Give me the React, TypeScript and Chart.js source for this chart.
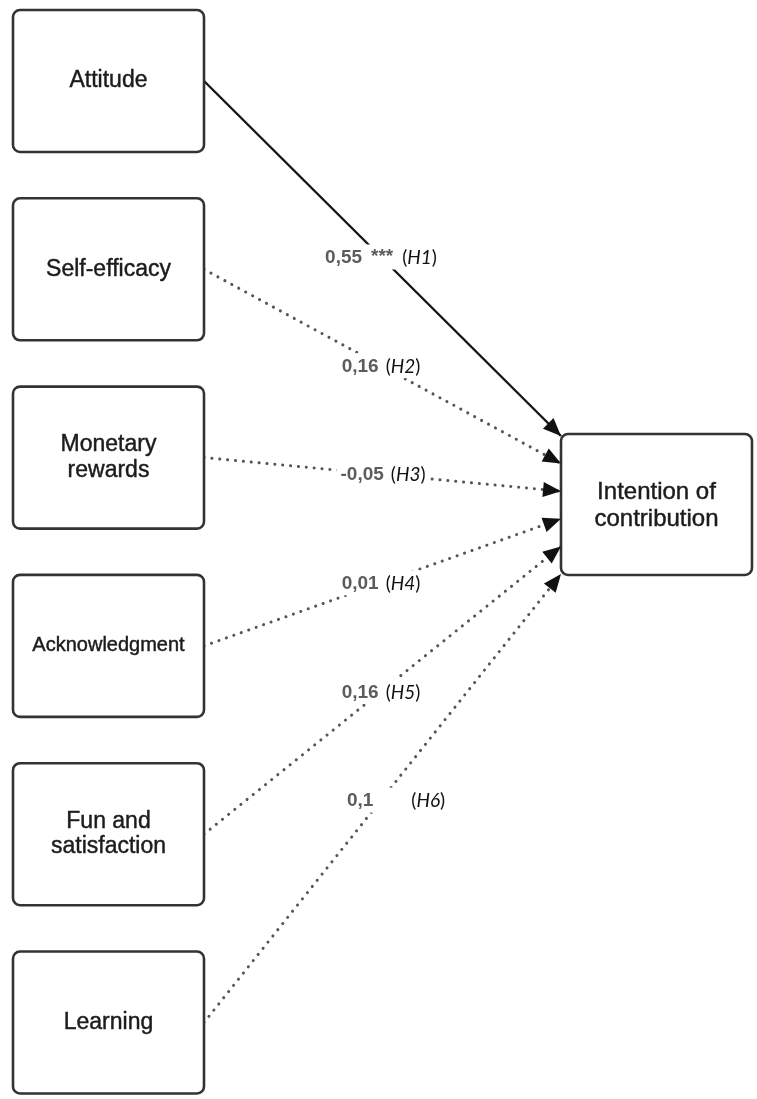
import React, { useEffect, useRef } from "react";
import { Chart, registerables } from "chart.js";

Chart.register(...registerables);

// ---------- data ----------
const factors = ["Attitude", "Self-efficacy", "Monetary\nrewards", "Acknowledgment", "Fun and\nsatisfaction", "Learning"];
const outcome = "Intention of\ncontribution";
const coefficients = [0.55, 0.16, -0.05, 0.01, 0.16, 0.1];
const significance = ["***", "", "", "", "", ""];
const hypotheses = ["H1", "H2", "H3", "H4", "H5", "H6"];

// ---------- layout ----------
const W = 757;
const H = 1099;
const LEFT_BOX = { x0: 13, x1: 204, top: 10, pitch: 188.3, h: 142 };
const RIGHT_BOX = { x0: 561, x1: 752, y0: 434, y1: 575 };
const TIP_TOP = 436;
const TIP_STEP = 27.6;
const LABEL_X = 381;
const labelGap = [9, 7, 7, 7, 7, 38];
const labelShift = [0, 0, 2, 0, 0, 15];
const factorFontSize = [23, 23, 23, 20, 23, 23];

const boxCenterY = (i: number) => LEFT_BOX.top + i * LEFT_BOX.pitch + LEFT_BOX.h / 2;
const tipY = (i: number) => TIP_TOP + i * TIP_STEP;
const fmt = (v: number) => String(v).replace(".", ",");

const BOX_FONT = "'Liberation Sans', Arial, Helvetica, sans-serif";
const HYP_FONT = "Lato, 'Open Sans', sans-serif";

function drawBox(ctx: CanvasRenderingContext2D, x0: number, y0: number, x1: number, y1: number) {
  ctx.save();
  ctx.beginPath();
  (ctx as any).roundRect(x0, y0, x1 - x0, y1 - y0, 7);
  ctx.fillStyle = "#ffffff";
  ctx.fill();
  ctx.lineWidth = 2.6;
  ctx.strokeStyle = "#333333";
  ctx.stroke();
  ctx.restore();
}

function drawCenteredText(ctx: CanvasRenderingContext2D, text: string, cx: number, cy: number, size: number) {
  const lines = text.split("\n");
  const lh = size * 1.12;
  ctx.save();
  ctx.font = `${size}px ${BOX_FONT}`;
  ctx.fillStyle = "#1c1c1c";
  ctx.strokeStyle = "#1c1c1c";
  ctx.lineWidth = 0.45;
  ctx.textAlign = "center";
  ctx.textBaseline = "middle";
  lines.forEach((ln, k) => {
    const yy = cy + (k - (lines.length - 1) / 2) * lh;
    ctx.fillText(ln, cx, yy);
    ctx.strokeText(ln, cx, yy);
  });
  ctx.restore();
}

const diagramPlugin = {
  id: "diagram",
  afterDatasetsDraw(chart: any) {
    const ctx: CanvasRenderingContext2D = chart.ctx;
    const xs = chart.scales.x;
    const ys = chart.scales.y;
    const px = (v: number) => xs.getPixelForValue(v);
    const py = (v: number) => ys.getPixelForValue(v);

    // boxes
    factors.forEach((name, i) => {
      const cy = boxCenterY(i);
      drawBox(ctx, px(LEFT_BOX.x0), py(cy - LEFT_BOX.h / 2), px(LEFT_BOX.x1), py(cy + LEFT_BOX.h / 2));
      drawCenteredText(ctx, name, px((LEFT_BOX.x0 + LEFT_BOX.x1) / 2), py(cy), factorFontSize[i]);
    });
    drawBox(ctx, px(RIGHT_BOX.x0), py(RIGHT_BOX.y0), px(RIGHT_BOX.x1), py(RIGHT_BOX.y1));
    drawCenteredText(ctx, outcome, px((RIGHT_BOX.x0 + RIGHT_BOX.x1) / 2), py((RIGHT_BOX.y0 + RIGHT_BOX.y1) / 2) + 1, 24);

    // arrowheads + labels
    chart.data.datasets.forEach((ds: any, i: number) => {
      const a = ds.data[0];
      const b = ds.data[1];
      const ax = px(a.x), ay = py(a.y), bx = px(b.x), by = py(b.y);
      const ang = Math.atan2(by - ay, bx - ax);
      const c = Math.cos(ang), s = Math.sin(ang);
      const len = 18, half = 7.5;
      ctx.save();
      ctx.fillStyle = "#111111";
      ctx.beginPath();
      ctx.moveTo(bx, by);
      ctx.lineTo(bx - len * c + half * s, by - len * s - half * c);
      ctx.lineTo(bx - len * c - half * s, by - len * s + half * c);
      ctx.closePath();
      ctx.fill();
      ctx.restore();

      // label
      const t = (LABEL_X - a.x) / (b.x - a.x);
      const lyv = a.y + t * (b.y - a.y);
      const lx = px(LABEL_X + labelShift[i]);
      const ly = py(lyv);
      const numTxt = fmt(coefficients[i]);
      const stars = significance[i];
      const numFont = `bold 19px ${BOX_FONT}`;
      const parFont = `19px ${HYP_FONT}`;
      const itFont = `italic 19px ${HYP_FONT}`;
      ctx.save();
      ctx.font = numFont;
      const wNum = ctx.measureText(numTxt).width;
      const wStars = stars ? ctx.measureText(stars).width : 0;
      ctx.font = parFont;
      const wOpen = ctx.measureText("(").width;
      const wClose = ctx.measureText(")").width;
      ctx.font = itFont;
      const wH = ctx.measureText(hypotheses[i]).width;
      const starGap = stars ? 9 : 0;
      const total = wNum + starGap + wStars + labelGap[i] + wOpen + wH + wClose;
      let x = lx - total / 2;
      ctx.fillStyle = "#ffffff";
      ctx.fillRect(x - 4, ly - 12.5, total + 8, 25);
      ctx.textBaseline = "middle";
      ctx.textAlign = "left";
      ctx.font = numFont;
      ctx.fillStyle = "#5c5c5c";
      ctx.fillText(numTxt, x, ly + 1);
      x += wNum + starGap;
      if (stars) {
        ctx.fillText(stars, x, ly);
        x += wStars;
      }
      x += labelGap[i];
      ctx.fillStyle = "#111111";
      ctx.font = parFont;
      ctx.fillText("(", x, ly + 1);
      x += wOpen;
      ctx.font = itFont;
      ctx.fillText(hypotheses[i], x, ly + 1);
      x += wH;
      ctx.font = parFont;
      ctx.fillText(")", x, ly + 1);
      ctx.restore();
    });
  },
};

export default function App() {
  const ref = useRef<HTMLCanvasElement | null>(null);
  useEffect(() => {
    if (!ref.current) return;
    const datasets = factors.map((name, i) => {
      const solid = significance[i] !== "";
      return {
        label: name.replace("\n", " "),
        data: [
          { x: LEFT_BOX.x1, y: boxCenterY(i) },
          { x: RIGHT_BOX.x0, y: tipY(i) },
        ],
        showLine: true,
        pointRadius: 0,
        borderColor: solid ? "#151515" : "#555555",
        borderWidth: solid ? 2.4 : 3,
        borderDash: solid ? [] : [0.1, 7.8],
        borderCapStyle: solid ? "butt" : "round",
        fill: false,
      };
    });
    const chart = new Chart(ref.current, {
      type: "scatter",
      data: { datasets: datasets as any },
      options: {
        animation: false,
        responsive: false,
        maintainAspectRatio: false,
        layout: { padding: 0 },
        events: [],
        scales: {
          x: { type: "linear", min: 0, max: W, display: false },
          y: { type: "linear", min: 0, max: H, reverse: true, display: false },
        },
        plugins: { legend: { display: false }, tooltip: { enabled: false } },
      },
      plugins: [diagramPlugin],
    });
    return () => chart.destroy();
  }, []);
  return (
    <div style={{ position: "fixed", left: 0, top: 0, width: W, height: H, background: "#fff" }}>
      <canvas ref={ref} width={W} height={H} style={{ width: W, height: H, display: "block" }} />
    </div>
  );
}
